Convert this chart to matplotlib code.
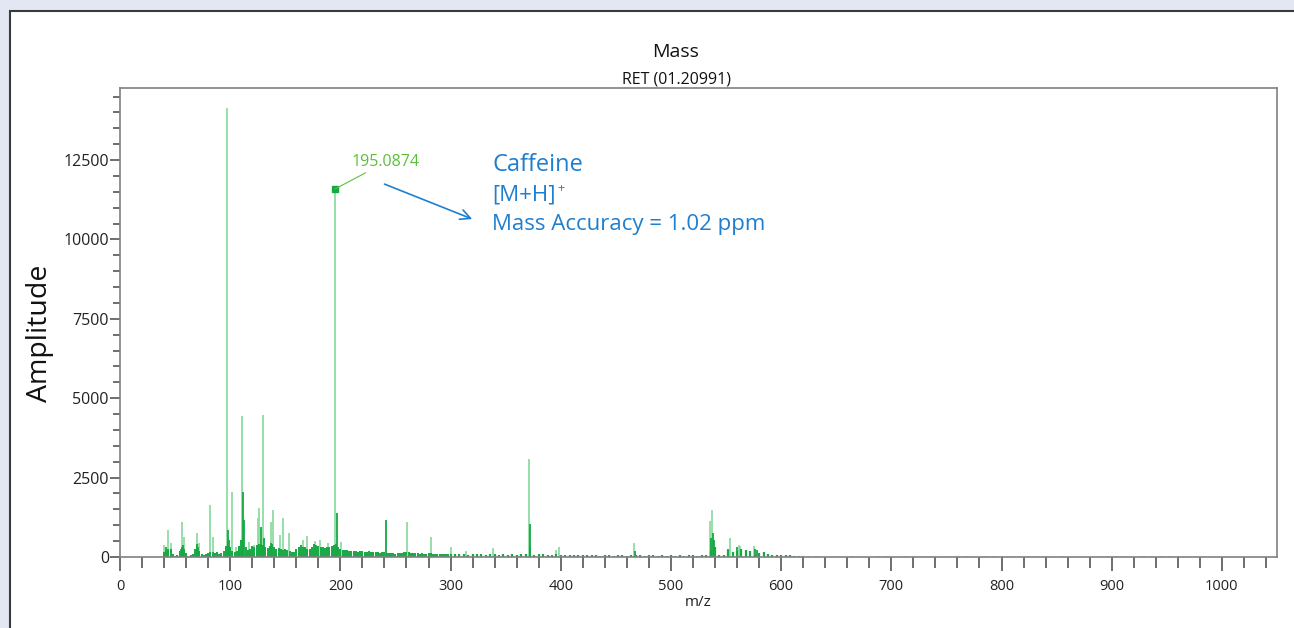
import numpy as np
import matplotlib.pyplot as plt
from matplotlib.patches import Rectangle

plt.rcParams['font.family'] = ['Open Sans', 'DejaVu Sans']

# tall profile peaks (light green)
peak_mz = [40.0, 43.6, 46.3, 56.3, 58.4, 69.9, 72.0, 81.7, 84.4, 97.0, 101.6, 105.0,
           110.4, 117.0, 121.9, 125.0, 126.4, 129.5, 130.7, 136.7, 138.5, 145.0, 147.6,
           153.0, 166.0, 169.4, 176.6, 181.8, 188.7, 195.09, 200.2, 260.2, 281.9, 300.0,
           313.7, 338.8, 371.4, 395.6, 398.0, 466.7, 535.7, 537.5, 553.5, 561.4, 562.6,
           575.6]
peak_int = [380, 850, 440, 1100, 640, 750, 450, 1640, 640, 14140, 2060, 300,
            4440, 480, 380, 1230, 1540, 4470, 590, 1110, 1480, 690, 1230,
            750, 540, 660, 500, 540, 440, 11590, 480, 1110, 640, 330,
            200, 270, 3090, 220, 330, 450, 1130, 1480, 590, 380, 355,
            345]

# centroid sticks (dark green)
stick_mz = [42, 44, 55, 57, 70, 71, 97.7, 99, 108, 111.3, 112.3, 128, 131, 137,
            196.6, 241.7, 371.8, 372.5, 467, 536.5, 538.4, 539, 552, 560, 564, 576, 578]
stick_int = [300, 260, 250, 380, 420, 300, 850, 530, 300, 2040, 1160, 950, 590, 430,
             1380, 1160, 1040, 300, 200, 600, 745, 535, 250, 300, 250, 250, 220]

# dense low-level signal 40-298 (step 2)
base1_mz = np.arange(40, 300, 2)
base1_int = [150, 220, 180, 260, 90, 40,
             60, 180, 300, 260, 120,
             40, 60, 90, 250, 330,
             200, 110, 60, 80, 130,
             170, 150, 120, 160, 110,
             140, 200, 350, 480, 300,
             200, 150, 180, 350, 520,
             600, 300, 220, 260, 350,
             300, 380, 420, 400, 380,
             300, 280, 360, 420, 330,
             250, 280, 260, 220, 240,
             230, 180, 150, 170, 260,
             330, 380, 320, 300, 260,
             240, 330, 420, 380, 350,
             300, 330, 280, 300, 320,
             340, 380, 400, 300, 260,
             230, 210, 230, 200, 190,
             200, 180, 170, 190, 180,
             170, 160, 180, 150, 170,
             160, 150, 140, 160, 150,
             140, 130, 120, 130, 110,
             120, 130, 140, 150, 160,
             150, 130, 140, 120, 130,
             110, 120, 100, 110, 130,
             120, 110, 100, 90, 100,
             90, 100, 80, 90]

# low-level signal 300-620 (step 4)
base2_mz = np.arange(300, 624, 4)
base2_int = [90, 100, 80, 90, 70, 100, 80, 90, 70, 80,
             90, 70, 80, 60, 90, 70, 80, 90, 60, 70,
             80, 90, 60, 70, 80, 60, 50, 70, 60, 50,
             60, 70, 50, 60, 40, 50, 60, 40, 50, 60,
             40, 50, 60, 50, 40, 50, 60, 40, 50, 40,
             50, 40, 50, 40, 60, 50, 40, 50, 60, 200,
             300, 60, 50, 230, 150, 200, 250, 230, 180, 60,
             120, 150, 80, 60, 50, 70, 60, 50, 40, 40,
             30]

# sparse noise 624-1000 (step 8)
base3_mz = np.arange(624, 1000, 8)
base3_int = [30, 20, 0, 25, 0, 20, 0, 0, 20, 25,
             0, 30, 20, 25, 20, 0, 30, 20, 25, 0,
             20, 25, 30, 20, 0, 25, 20, 30, 0, 20,
             0, 0, 0, 25, 30, 20, 30, 0, 25, 20,
             30, 25, 20, 0, 0, 0, 0]

light = '#8fdca3'
dark = '#16a843'
blue = '#1f7fcf'

fig = plt.figure(figsize=(12.94, 6.28), dpi=100)
fig.patch.set_facecolor('#e3e7f4')
fig.patches.append(Rectangle((10 / 1294, -0.01), 1.0, 1.01 - 11 / 628, transform=fig.transFigure,
                             facecolor='white', edgecolor='#3a3a3a', linewidth=1.5, zorder=-5))

ax = fig.add_axes([120 / 1294, 71 / 628, 1157 / 1294, 469 / 628])
ax.set_facecolor('white')

ax.vlines(peak_mz, 0, peak_int, color=light, linewidth=1.3)
ax.vlines(base1_mz, 0, base1_int, color=dark, linewidth=1.4)
ax.vlines(base2_mz, 0, base2_int, color=dark, linewidth=1.6)
ax.vlines(base3_mz, 0, base3_int, color=dark, linewidth=1.0)
ax.vlines(stick_mz, 0, stick_int, color=dark, linewidth=1.3)

ax.set_xlim(0, 1050)
ax.set_ylim(0, 14770)
ax.set_xticks(np.arange(0, 1001, 100))
ax.set_xticks(np.arange(0, 1050, 20), minor=True)
ax.set_yticks(np.arange(0, 12501, 2500))
ax.set_yticks(np.arange(0, 14770, 500), minor=True)
for s in ax.spines.values():
    s.set_color('#808080')
    s.set_linewidth(1.2)
ax.tick_params(axis='x', which='major', length=10, width=1.2, color='#555555',
               labelsize=10.5, labelcolor='#222222', pad=6)
ax.tick_params(axis='x', which='minor', length=8, width=1.2, color='#555555')
ax.tick_params(axis='y', which='major', length=7, width=1.2, color='#555555',
               labelsize=11.5, labelcolor='#222222', pad=1)
ax.tick_params(axis='y', which='minor', length=5, width=1.2, color='#555555')

fig.text(676 / 1294, 1 - 52 / 628, 'Mass', ha='center', va='center', fontsize=14, color='#111111')
fig.text(676 / 1294, 1 - 80 / 628, 'RET (01.20991)', ha='center', va='center', fontsize=11.5, color='#111111')
fig.text(698 / 1294, 1 - 602 / 628, 'm/z', ha='center', va='center', fontsize=11, color='#222222')
fig.text(40 / 1294, 1 - 333 / 628, 'Amplitude', ha='center', va='center', rotation=90,
         fontsize=20.5, color='#111111')

# labelled peak
ax.plot([195.09], [11590], marker='s', markersize=4, color='#16a843')
ax.annotate('195.0874', xy=(195.09, 11590), xytext=(210.5, 12437), fontsize=11.5,
            color='#5cbf3c', va='center', ha='left',
            arrowprops=dict(arrowstyle='-', color='#5cbf3c', linewidth=0.8, shrinkA=0, shrinkB=0))

ax.annotate('', xy=(322, 10611), xytext=(237.7, 11776),
            arrowprops=dict(arrowstyle='->', color=blue, linewidth=1.2, mutation_scale=18))
ax.text(337.6, 12360, 'Caffeine', fontsize=17, color=blue, va='center', ha='left')
mh = ax.text(337.6, 11410, '[M+H]', fontsize=16, color=blue, va='center', ha='left')
ax.annotate('+', xy=(1.0, 0.78), xycoords=mh, xytext=(1, 0), textcoords='offset points',
            fontsize=9, color=blue, va='center', ha='left')
ax.text(337.6, 10470, 'Mass Accuracy = 1.02 ppm', fontsize=16, color=blue, va='center', ha='left')

fig.savefig('out.png', dpi=100, facecolor=fig.get_facecolor())
